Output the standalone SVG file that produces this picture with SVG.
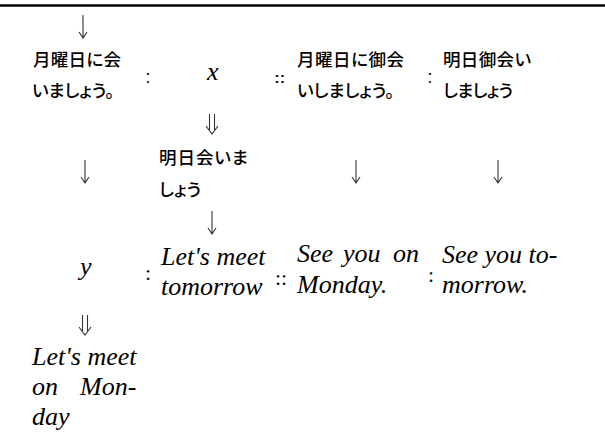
<svg xmlns="http://www.w3.org/2000/svg" width="605" height="434" viewBox="0 0 605 434">
<style>
.jp{font-family:"Noto Sans CJK JP","Noto Sans CJK SC",sans-serif;font-size:17.5px;font-weight:500;fill:#000;font-feature-settings:"palt"}
.en{font-family:"Liberation Serif","Times New Roman",serif;font-style:italic;font-size:26px;fill:#000}
.c1{font-family:"Liberation Sans",Arial,sans-serif;font-size:19px;fill:#000}
.c2{font-family:"Liberation Serif","Times New Roman",serif;font-size:22px;fill:#111}
.arr{fill:none;stroke:#333;stroke-width:1.1}
</style>
<defs>
<path id="down" d="M0,0 V23 M-4,17 L0,23 L4,17"/>
<path id="ddown" d="M-2.5,0 V16 M2.5,0 V16 M-6,12 L0,20 L6,12"/>
</defs>
<rect x="0" y="0" width="605" height="434" fill="#fff"/>
<line x1="0" y1="5.5" x2="605" y2="5.5" stroke="#000" stroke-width="2.6"/>
<g id="connectors" class="arr">
<use href="#down" x="83" y="15"/>
<use href="#ddown" x="212" y="114"/>
<use href="#down" x="85" y="160"/>
<use href="#down" x="212" y="211"/>
<use href="#down" x="356" y="160"/>
<use href="#down" x="498" y="160"/>
<use href="#ddown" x="85" y="315"/>
</g>
<g id="n-jp1"><text class="jp" x="33" y="66" textLength="88" lengthAdjust="spacing">月曜日に会</text><text class="jp" x="32" y="97" textLength="82" lengthAdjust="spacing">いましょう。</text></g>
<g id="sep1"><text class="c1" x="148" y="83" text-anchor="middle">:</text></g>
<g id="n-x"><text class="en" x="207" y="80">x</text></g>
<g id="sep2"><text class="c1" x="280" y="83" text-anchor="middle" style="font-size:15px;font-weight:bold;letter-spacing:0.5px">::</text></g>
<g id="n-jp2"><text class="jp" x="297" y="66" textLength="107" lengthAdjust="spacing">月曜日に御会</text><text class="jp" x="297" y="97" textLength="97" lengthAdjust="spacing">いしましょう。</text></g>
<g id="sep3"><text class="c1" x="430" y="83" text-anchor="middle">:</text></g>
<g id="n-jp3"><text class="jp" x="443" y="66" textLength="88" lengthAdjust="spacing">明日御会い</text><text class="jp" x="443" y="97" textLength="70" lengthAdjust="spacing">しましょう</text></g>
<g id="n-jp4"><text class="jp" x="159" y="164" textLength="89" lengthAdjust="spacing">明日会いま</text><text class="jp" x="159" y="196" textLength="42" lengthAdjust="spacing">しょう</text></g>
<g id="n-y"><text class="en" x="80" y="275">y</text></g>
<g id="sep4"><text class="c2" x="148" y="280" text-anchor="middle">:</text></g>
<g id="n-en1"><text class="en" x="161" y="265">Let's meet</text><text class="en" x="161" y="295">tomorrow</text></g>
<g id="sep5"><text class="c2" x="281" y="285" text-anchor="middle">::</text></g>
<g id="n-en2"><text class="en" y="262"><tspan x="297">See</tspan><tspan x="343">you</tspan><tspan x="393">on</tspan></text><text class="en" x="297" y="293">Monday.</text></g>
<g id="sep6"><text class="c2" x="431" y="282" text-anchor="middle">:</text></g>
<g id="n-en3"><text class="en" x="442" y="263">See you to-</text><text class="en" x="442" y="293">morrow.</text></g>
<g id="n-en4"><text class="en" x="32" y="365">Let's meet</text><text class="en" y="395"><tspan x="32">on</tspan><tspan x="80">Mon-</tspan></text><text class="en" x="32" y="425">day</text></g>
</svg>
